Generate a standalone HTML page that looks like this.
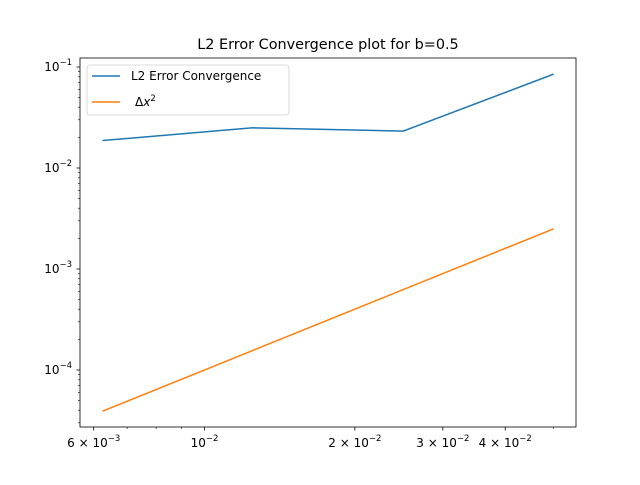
<!DOCTYPE html>
<html><head><meta charset="utf-8"><style>
body{margin:0;background:#fff}
text{font-family:"DejaVu Sans","Liberation Sans",sans-serif;fill:#000}
</style></head><body>
<svg id="chart" width="640" height="480" xmlns="http://www.w3.org/2000/svg">
<rect width="640" height="480" fill="#fff"/>
<text x="328" y="49" font-size="14.4" text-anchor="middle">L2 Error Convergence plot for b=0.5</text>
<g id="ticks"></g>
<g id="series"></g>
<rect x="80" y="58" width="496" height="369" fill="none" stroke="#000" stroke-width="0.8"/>
<g>
<rect x="87" y="65" width="202" height="50" rx="3" fill="#fff" stroke="#ccc" stroke-width="0.8" opacity="0.9"/>
<line x1="92" y1="76" x2="120" y2="76" stroke="#1f77b4" stroke-width="1.5"/>
<text x="131" y="80" font-size="12">L2 Error Convergence</text>
<line x1="92" y1="102" x2="120" y2="102" stroke="#ff7f0e" stroke-width="1.5"/>
<text x="135" y="106" font-size="12">Δ<tspan font-style="italic">x</tspan><tspan font-size="8.5" dy="-5">2</tspan></text>
</g>
</svg>
<script>
const dx = [0.00625, 0.0125, 0.025, 0.05];
const l2Error = [0.0187, 0.0250, 0.0232, 0.085];
const dxSquared = [0.0000390625, 0.00015625, 0.000625, 0.0025];
const xTickValues = [0.006, 0.01, 0.02, 0.03, 0.04];
const xTickLabels = [["6","-3"],["10","-2",true],["2","-2"],["3","-2"],["4","-2"]];
const yTickExps = [-1, -2, -3, -4];

const NS = "http://www.w3.org/2000/svg";
const xMinL = Math.log10(0.00625) - 0.04515, pxPerDecX = 499.5;
function xs(v){return 80 + (Math.log10(v) - xMinL) * pxPerDecX;}
function ys(v){return 67 + (-1 - Math.log10(v)) * 101;}
function mk(tag, attrs, parent){const e=document.createElementNS(NS,tag);for(const k in attrs)e.setAttribute(k,attrs[k]);parent.appendChild(e);return e;}
const tg = document.getElementById('ticks');
const sg = document.getElementById('series');

xTickValues.forEach((v,i)=>{
  const x = xs(v);
  const t = mk('line',{x1:x,x2:x,y1:427,y2:427+3.5,stroke:'#000','stroke-width':0.8},tg);
  
  
  const lab = xTickLabels[i];
  const tx = mk('text',{x:x,y:447,'font-size':12,'text-anchor':'middle'},tg);
  
  
  tx.innerHTML = lab[2] ? `10<tspan font-size="8.5" dy="-6">−2</tspan>` :
    `${lab[0]} × 10<tspan font-size="8.5" dy="-6">−${lab[1].slice(1)}</tspan>`;
});
[0.007,0.008,0.009,0.05].forEach(v=>{
  const x=xs(v);
  const t=mk('line',{x1:x,x2:x,y1:427,y2:429,stroke:'#000','stroke-width':0.6},tg);
  
  
});
yTickExps.forEach(e=>{
  const y = ys(Math.pow(10,e));
  const t=mk('line',{x1:80-3.5,x2:80,y1:y,y2:y,stroke:'#000','stroke-width':0.8},tg);
  
  
  const tx=mk('text',{x:72,y:y+4,'font-size':12,'text-anchor':'end'},tg);
  
  
  tx.innerHTML=`10<tspan font-size="8.5" dy="-6">−${-e}</tspan>`;
  for(let m=2;m<10;m++){
    const v=m*Math.pow(10,e-1); const yy=ys(v);
    if(yy<58||yy>427) continue;
    const mt=mk('line',{x1:78,x2:80,y1:yy,y2:yy,stroke:'#000','stroke-width':0.6},tg);
    
    
  }
});
function line(vals,color,name){
  const p=mk('polyline',{points:dx.map((d,i)=>xs(d)+','+ys(vals[i])).join(' '),fill:'none',stroke:color,'stroke-width':1.5},sg);
  
  
}
line(l2Error,'#1f77b4','l2-error-line');
line(dxSquared,'#ff7f0e','dx-squared-line');
</script>
</body></html>
